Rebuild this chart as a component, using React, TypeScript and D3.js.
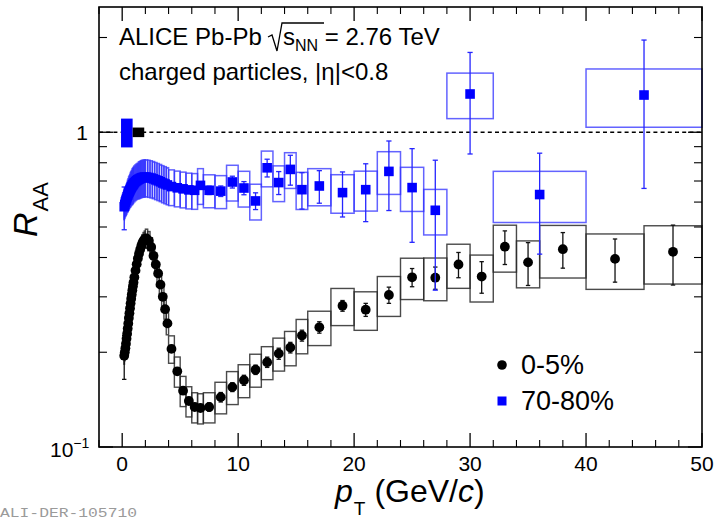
import React from "react";
import * as d3 from "d3";

// ---------------- data ----------------
// 0-5% central collisions: pT bin edges (GeV/c)
const centralEdges = [
  0.15, 0.2, 0.25, 0.3, 0.35, 0.4, 0.45, 0.5, 0.55, 0.6, 0.65, 0.7, 0.75, 0.8, 0.85, 0.9, 0.95, 1.0,
  1.1, 1.2, 1.3, 1.4, 1.5, 1.6, 1.7, 1.8, 1.9, 2.0,
  2.2, 2.4, 2.6, 2.8, 3.0, 3.2, 3.4, 3.6, 3.8, 4.0,
  4.5, 5.0, 5.5, 6.0, 6.5, 7.0,
  8, 9, 10, 11, 12, 13, 14, 15, 16,
  18, 20, 22, 24, 26, 28, 30, 32, 34, 36,
  40, 45, 50,
];
const centralRaa = [
  0.195, 0.2, 0.206, 0.213, 0.221, 0.229, 0.238, 0.247, 0.257, 0.266, 0.276, 0.286, 0.296, 0.305, 0.315, 0.324, 0.333,
  0.346, 0.364, 0.381, 0.397, 0.411, 0.424, 0.436, 0.446, 0.453, 0.458,
  0.46, 0.452, 0.432, 0.405, 0.38, 0.356, 0.328, 0.3, 0.274, 0.247,
  0.205, 0.174, 0.151, 0.14, 0.134, 0.133,
  0.134, 0.144, 0.155, 0.163, 0.176, 0.186, 0.198, 0.207, 0.226,
  0.24, 0.281, 0.273, 0.304, 0.346, 0.345, 0.38, 0.348, 0.433, 0.386,
  0.425, 0.396, 0.417,
];
const centralStat = [
  0.031, 0.006, 0.004, 0.003, 0.003, 0.003, 0.003, 0.003, 0.003, 0.003, 0.003, 0.003, 0.003, 0.003, 0.003, 0.003, 0.003,
  0.003, 0.003, 0.003, 0.003, 0.003, 0.003, 0.003, 0.003, 0.003, 0.003,
  0.003, 0.003, 0.003, 0.003, 0.003, 0.003, 0.003, 0.003, 0.003, 0.003,
  0.003, 0.003, 0.003, 0.003, 0.003, 0.003,
  0.004, 0.005, 0.005, 0.006, 0.006, 0.007, 0.008, 0.008, 0.009,
  0.01, 0.011, 0.013, 0.018, 0.023, 0.028, 0.035, 0.04, 0.053, 0.06,
  0.055, 0.062, 0.09,
];
// relative systematic uncertainty
const centralSys = [
  0.06, 0.06, 0.06, 0.06, 0.06, 0.06, 0.06, 0.06, 0.06, 0.06, 0.06, 0.06, 0.06, 0.06, 0.06, 0.06, 0.06,
  0.06, 0.06, 0.06, 0.06, 0.06, 0.06, 0.06, 0.06, 0.06, 0.06,
  0.07, 0.07, 0.07, 0.07, 0.07, 0.07, 0.07, 0.07, 0.07, 0.08,
  0.1, 0.11, 0.11, 0.11, 0.11, 0.11,
  0.11, 0.115, 0.12, 0.12, 0.12, 0.12, 0.12, 0.125, 0.125,
  0.125, 0.135, 0.14, 0.145, 0.15, 0.155, 0.16, 0.17, 0.17, 0.17,
  0.19, 0.2, 0.21,
];

// 70-80% peripheral collisions
const periphEdges = [
  0.15, 0.2, 0.25, 0.3, 0.35, 0.4, 0.45, 0.5, 0.55, 0.6, 0.65, 0.7, 0.75, 0.8, 0.85, 0.9, 0.95, 1.0,
  1.1, 1.2, 1.3, 1.4, 1.5, 1.6, 1.7, 1.8, 1.9, 2.0,
  2.2, 2.4, 2.6, 2.8, 3.0, 3.2, 3.4, 3.6, 3.8, 4.0,
  4.5, 5.0, 5.5, 6.0, 6.5, 7.0,
  8, 9, 10, 11, 12, 13, 14, 15, 16,
  18, 20, 22, 24, 26, 28,
  32, 40, 50,
];
const periphRaa = [
  0.58, 0.59, 0.6, 0.608, 0.616, 0.624, 0.631, 0.638, 0.644, 0.65, 0.656, 0.662, 0.667, 0.672, 0.677, 0.681, 0.685,
  0.691, 0.697, 0.702, 0.706, 0.71, 0.713, 0.716, 0.718, 0.719, 0.72,
  0.72, 0.718, 0.715, 0.711, 0.706, 0.701, 0.696, 0.69, 0.685, 0.68,
  0.672, 0.666, 0.661, 0.656, 0.654, 0.678,
  0.654, 0.65, 0.695, 0.665, 0.605, 0.771, 0.692, 0.762, 0.657,
  0.675, 0.643, 0.657, 0.751, 0.667, 0.565,
  1.323, 0.634, 1.313,
];
const periphStat = [
  0.09, 0.012, 0.006, 0.005, 0.005, 0.005, 0.005, 0.005, 0.005, 0.005, 0.005, 0.005, 0.005, 0.005, 0.005, 0.005, 0.005,
  0.005, 0.005, 0.005, 0.005, 0.005, 0.005, 0.005, 0.005, 0.005, 0.005,
  0.006, 0.006, 0.006, 0.006, 0.007, 0.007, 0.008, 0.008, 0.009, 0.009,
  0.01, 0.011, 0.012, 0.013, 0.015, 0.017,
  0.02, 0.025, 0.03, 0.032, 0.037, 0.05, 0.058, 0.083, 0.087,
  0.08, 0.105, 0.137, 0.187, 0.22, 0.25,
  0.47, 0.224, 0.65,
];
const periphSys = [
  0.09, 0.095, 0.1, 0.105, 0.11, 0.11, 0.115, 0.115, 0.12, 0.12, 0.12, 0.125, 0.125, 0.125, 0.13, 0.13, 0.13,
  0.13, 0.13, 0.13, 0.13, 0.135, 0.135, 0.135, 0.135, 0.135, 0.135,
  0.135, 0.135, 0.135, 0.135, 0.135, 0.135, 0.135, 0.135, 0.135, 0.135,
  0.13, 0.13, 0.13, 0.13, 0.13, 0.13,
  0.12, 0.12, 0.13, 0.13, 0.13, 0.13, 0.13, 0.13, 0.135,
  0.135, 0.14, 0.145, 0.155, 0.16, 0.165,
  0.165, 0.185, 0.21,
];

// normalisation uncertainties drawn at RAA = 1
const normRanges = [
  { name: "70-80%", lo: -0.1, hi: 0.9, rel: 0.105 },
  { name: "0-5%", lo: 0.9, hi: 1.9, rel: 0.035 },
];

const xMajorTicks = [0, 10, 20, 30, 40, 50];
const xMinorTicks = [-2, 2, 4, 6, 8, 12, 14, 16, 18, 22, 24, 26, 28, 32, 34, 36, 38, 42, 44, 46, 48];
const yMajorTicks = [0.1, 1];
const yMinorTicks = [0.2, 0.3, 0.4, 0.5, 0.6, 0.7, 0.8, 0.9, 2];

const legendLabels = ["0-5%", "70-80%"];

// ---------------- chart ----------------
type Pt = { lo: number; hi: number; xc: number; v: number; s: number; sy: number };

function build(edges: number[], vals: number[], stat: number[], sys: number[]): Pt[] {
  return vals.map((v, i) => ({
    lo: edges[i],
    hi: edges[i + 1],
    xc: (edges[i] + edges[i + 1]) / 2,
    v,
    s: stat[i],
    sy: sys[i],
  }));
}

const FONT = "'Liberation Sans', Arial, Helvetica, sans-serif";

export default function App() {
  const W = 715;
  const H = 520;
  const L = 99, R = 702, T = 7, B = 447;
  const x = d3.scaleLinear().domain([-2, 50]).range([L, R]);
  const y = d3.scaleLog().domain([0.1, 2.5]).range([B, T]);

  const central = build(centralEdges, centralRaa, centralStat, centralSys);
  const periph = build(periphEdges, periphRaa, periphStat, periphSys);

  const boxes = (pts: Pt[], stroke: string, sw: number, op: number, key: string) =>
    pts.map((p, i) => {
      const top = y(p.v * (1 + p.sy));
      const bot = y(p.v * (1 - p.sy));
      return (
        <rect
          key={key + i}
          x={x(p.lo)}
          y={top}
          width={x(p.hi) - x(p.lo)}
          height={bot - top}
          fill="none"
          stroke={stroke}
          strokeWidth={sw}
          strokeOpacity={op}
        />
      );
    });

  const errs = (pts: Pt[], stroke: string, cap: number, key: string) =>
    pts.map((p, i) => {
      const cx = x(p.xc);
      const y1 = y(p.v + p.s);
      const y2 = y(Math.max(p.v - p.s, 0.101));
      return (
        <g key={key + i} stroke={stroke} strokeWidth={1.3}>
          <line x1={cx} x2={cx} y1={y1} y2={y2} />
          <line x1={cx - cap} x2={cx + cap} y1={y1} y2={y1} />
          <line x1={cx - cap} x2={cx + cap} y1={y2} y2={y2} />
        </g>
      );
    });

  const ms = 9.6;

  return (
    <svg
      width={W}
      height={H}
      viewBox={`0 0 ${W} ${H}`}
      style={{ position: "absolute", left: 0, top: 0, display: "block", background: "#fff" }}
      fontFamily={FONT}
    >
      <rect x={0} y={0} width={W} height={H} fill="#fff" />

      {/* dashed unity line */}
      <line x1={L} x2={R} y1={y(1)} y2={y(1)} stroke="#000" strokeWidth={1.6} strokeDasharray="4,3.2" />

      {/* normalisation boxes */}
      {normRanges.map((n, i) => (
        <rect
          key={"n" + i}
          x={x(n.lo)}
          width={x(n.hi) - x(n.lo)}
          y={y(1 + n.rel)}
          height={y(1 - n.rel) - y(1 + n.rel)}
          fill={i === 0 ? "#0000ff" : "#000"}
        />
      ))}

      {/* 0-5% */}
      {boxes(central, "#2a2a2a", 1.4, 0.85, "cb")}
      {errs(central, "#111", 2.2, "ce")}
      {central.map((p, i) => (
        <circle key={"cm" + i} cx={x(p.xc)} cy={y(p.v)} r={4.9} fill="#000" />
      ))}

      {/* 70-80% */}
      {boxes(periph, "#2f2fff", 1.5, 0.75, "pb")}
      {errs(periph, "#2525ff", 2.6, "pe")}
      {periph.map((p, i) => (
        <rect key={"pm" + i} x={x(p.xc) - ms / 2} y={y(p.v) - ms / 2} width={ms} height={ms} fill="#0000ff" />
      ))}

      {/* frame */}
      <rect x={L} y={T} width={R - L} height={B - T} fill="none" stroke="#000" strokeWidth={1.6} />

      {/* x ticks (bottom and top) */}
      {xMajorTicks.map((t) => (
        <g key={"xM" + t} stroke="#000" strokeWidth={1.3}>
          <line x1={x(t)} x2={x(t)} y1={B} y2={B - 14} />
          <line x1={x(t)} x2={x(t)} y1={T} y2={T + 14} />
        </g>
      ))}
      {xMinorTicks.map((t) => (
        <g key={"xm" + t} stroke="#000" strokeWidth={1.1}>
          <line x1={x(t)} x2={x(t)} y1={B} y2={B - 7} />
          <line x1={x(t)} x2={x(t)} y1={T} y2={T + 7} />
        </g>
      ))}
      {/* y ticks (left and right) */}
      {yMajorTicks.map((t) => (
        <g key={"yM" + t} stroke="#000" strokeWidth={1.3}>
          <line x1={L} x2={L + 14} y1={y(t)} y2={y(t)} />
          <line x1={R} x2={R - 14} y1={y(t)} y2={y(t)} />
        </g>
      ))}
      {yMinorTicks.map((t) => (
        <g key={"ym" + t} stroke="#000" strokeWidth={1.1}>
          <line x1={L} x2={L + 8} y1={y(t)} y2={y(t)} />
          <line x1={R} x2={R - 8} y1={y(t)} y2={y(t)} />
        </g>
      ))}

      {/* x tick labels */}
      {xMajorTicks.map((t) => (
        <text key={"xl" + t} x={x(t)} y={471} fontSize={21} textAnchor="middle" fill="#000">
          {t}
        </text>
      ))}
      {/* y tick labels */}
      <text x={88} y={y(1) + 8} fontSize={21} textAnchor="end" fill="#000">
        1
      </text>
      <text x={50} y={y(0.1) + 10} fontSize={21} fill="#000">
        10
        <tspan fontSize={14} dy={-9}>
          −1
        </tspan>
      </text>

      {/* axis titles */}
      <text x={335} y={502} fontSize={32} fill="#000">
        <tspan fontStyle="italic">p</tspan>
        <tspan fontSize={19} dy={13} dx={1}>
          T
        </tspan>
        <tspan dy={-13} dx={9}>
          (GeV/
        </tspan>
        <tspan fontStyle="italic">c</tspan>
        <tspan>)</tspan>
      </text>
      <text transform="translate(37,237) rotate(-90)" fontSize={34} fill="#000">
        <tspan fontStyle="italic">R</tspan>
        <tspan fontSize={22} dy={11} dx={1}>
          AA
        </tspan>
      </text>

      {/* header */}
      <text x={119} y={45} fontSize={24} fill="#000">
        ALICE Pb-Pb
      </text>
      <path d="M268,37 L272,35 L277,51 L282,23 L324,23" fill="none" stroke="#000" strokeWidth={1.3} />
      <text x={283} y={45} fontSize={24} fill="#000">
        s
        <tspan fontSize={16} dy={6}>
          NN
        </tspan>
        <tspan dy={-6}> = 2.76 TeV</tspan>
      </text>
      <text x={119} y={80} fontSize={24} fill="#000">
        charged particles, |η|&lt;0.8
      </text>

      {/* legend */}
      <circle cx={502} cy={365} r={4.8} fill="#000" />
      <text x={521} y={374} fontSize={27} fill="#000">
        {legendLabels[0]}
      </text>
      <rect x={502 - 4.5} y={401 - 4.5} width={9} height={9} fill="#0000ff" />
      <text x={521} y={410} fontSize={27} fill="#000">
        {legendLabels[1]}
      </text>

      {/* watermark */}
      <text
        x={0}
        y={517}
        fontSize={13}
        fontFamily="'Liberation Mono', 'DejaVu Sans Mono', monospace"
        fill="#9a9a9a"
        textLength={137}
        lengthAdjust="spacingAndGlyphs"
      >
        ALI-DER-105710
      </text>
    </svg>
  );
}
